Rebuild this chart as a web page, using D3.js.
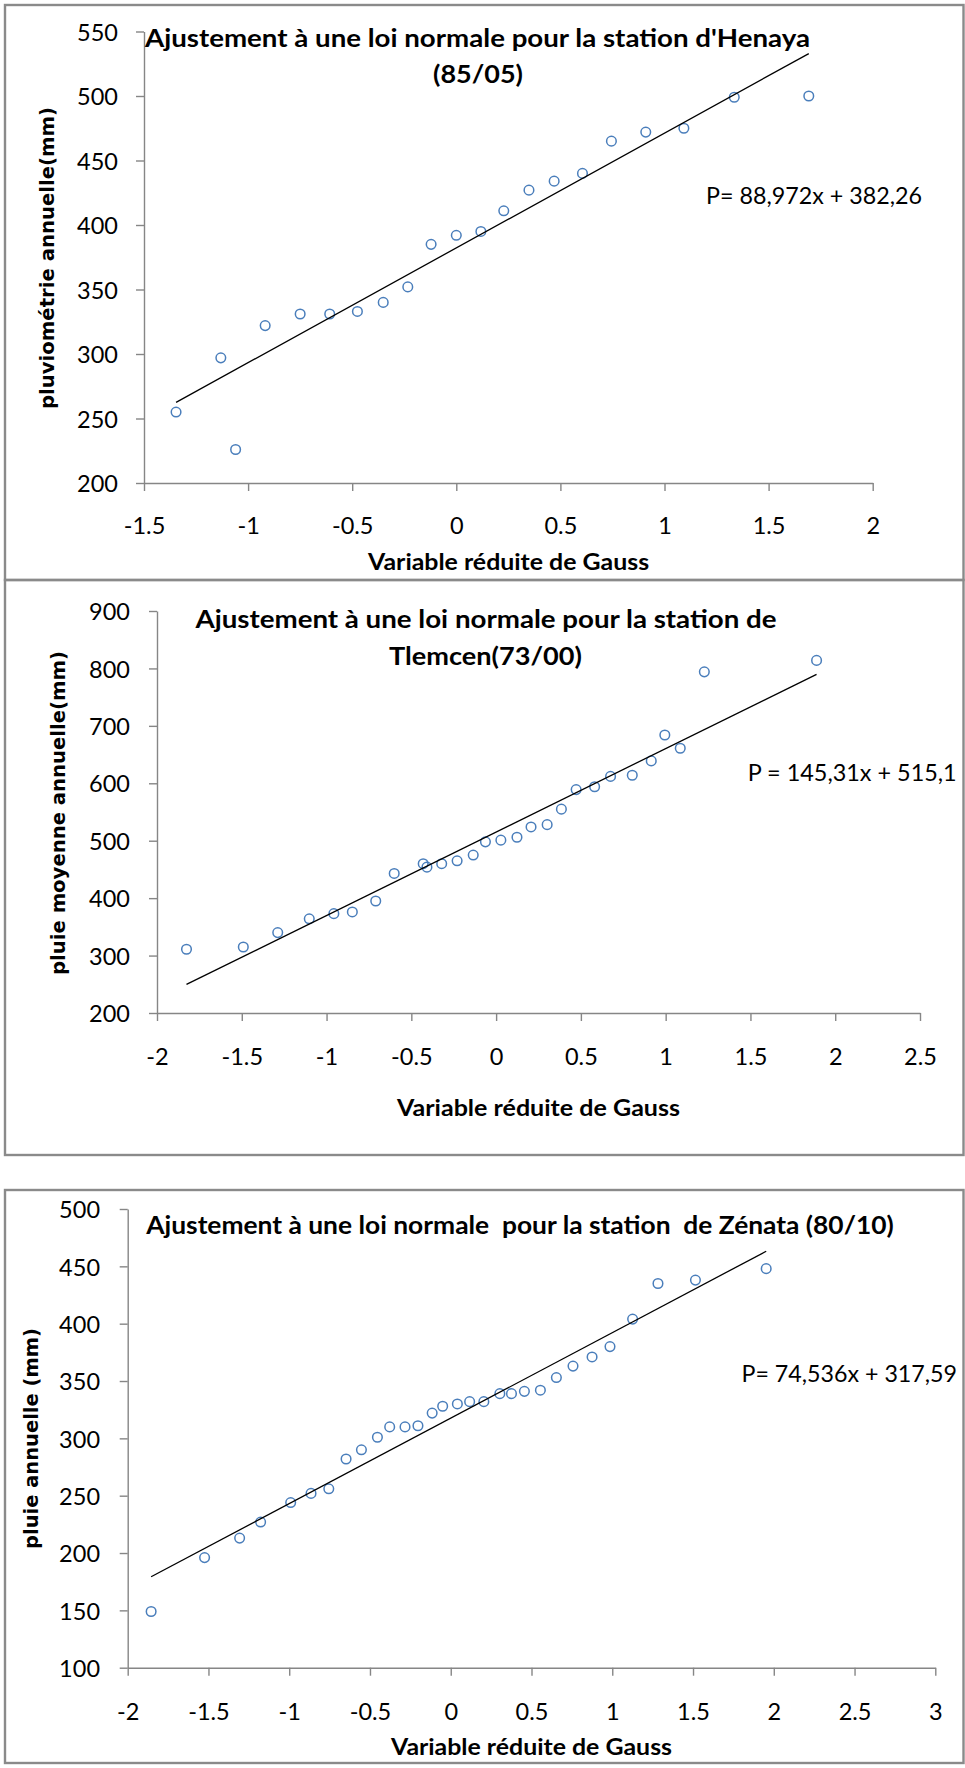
<!DOCTYPE html>
<html>
<head>
<meta charset="utf-8">
<script src="https://cdn.jsdelivr.net/npm/d3@7"></script>
<style>
  html, body { margin: 0; padding: 0; background: #fff; }
  svg { display: block; }
</style>
</head>
<body>
<svg id="fig" width="965" height="1768"></svg>
<script>
// ---- Station d'Henaya (85/05) ----
const henayaGauss = [-1.346, -1.131, -1.060, -0.918, -0.750, -0.608, -0.475, -0.351, -0.233, -0.121, 0.000,
                     0.118, 0.228, 0.349, 0.470, 0.606, 0.745, 0.910, 1.093, 1.335, 1.693];
const henayaRain  = [255, 297, 226, 322, 331, 331, 333, 340, 352, 385, 392,
                     395, 411, 427, 434, 440, 465, 472, 475, 499, 500];
const henayaFit   = [88.972, 382.26];
const henayaXTicks = [-1.5, -1, -0.5, 0, 0.5, 1, 1.5, 2];
const henayaYTicks = [200, 250, 300, 350, 400, 450, 500, 550];

// ---- Station de Tlemcen (73/00) ----
const tlemcenGauss = [-1.826, -1.491, -1.288, -1.102, -0.957, -0.848, -0.710, -0.601, -0.430, -0.408,
                      -0.321, -0.230, -0.135, -0.063, 0.028, 0.123, 0.206, 0.301, 0.385, 0.472,
                      0.581, 0.675, 0.803, 0.915, 0.995, 1.086, 1.228, 1.890];
const tlemcenRain  = [311, 315, 340, 364, 373, 376, 395, 443, 460, 454,
                      460, 465, 475, 498, 501, 506, 524, 528, 555, 589,
                      594, 612, 614, 639, 684, 661, 794, 814];
const tlemcenFit   = [145.31, 515.1];
const tlemcenXTicks = [-2, -1.5, -1, -0.5, 0, 0.5, 1, 1.5, 2, 2.5];
const tlemcenYTicks = [200, 300, 400, 500, 600, 700, 800, 900];

// ---- Station de Zénata (80/10) ----
const zenataGauss = [-1.855, -1.524, -1.307, -1.177, -0.991, -0.865, -0.755, -0.648, -0.553, -0.454,
                     -0.378, -0.283, -0.203, -0.115, -0.050, 0.041, 0.117, 0.205, 0.304, 0.376,
                     0.456, 0.555, 0.654, 0.757, 0.875, 0.986, 1.126, 1.283, 1.515, 1.953];
const zenataRain  = [149, 196, 213, 227, 244, 252, 256, 282, 290, 301,
                     310, 310, 311, 322, 328, 330, 332, 332, 339, 339,
                     341, 342, 353, 363, 371, 380, 404, 435, 438, 448];
const zenataFit   = [74.536, 317.59];
const zenataXTicks = [-2, -1.5, -1, -0.5, 0, 0.5, 1, 1.5, 2, 2.5, 3];
const zenataYTicks = [100, 150, 200, 250, 300, 350, 400, 450, 500];

// ---- Texts ----
const henayaTitle  = ["Ajustement à une loi normale pour la station d'Henaya", "(85/05)"];
const tlemcenTitle = ["Ajustement à une loi normale pour la station de", "Tlemcen(73/00)"];
const zenataTitle  = ["Ajustement à une loi normale  pour la station  de Zénata (80/10)"];
const xAxisTitle   = "Variable réduite de Gauss";

// Layout of each framed panel
const panels = [
  {
    gauss: henayaGauss, rain: henayaRain, fit: henayaFit,
    xTicks: henayaXTicks, yTicks: henayaYTicks,
    title: henayaTitle, equation: "P= 88,972x + 382,26", yTitle: "pluviométrie annuelle(mm)",
    frame: { x: 5, y: 5, w: 958.5, h: 575 },
    px: [144, 872.7], py: [483, 31.5],
    titleLayout: [{ cx: 477.5, y: 46.5, w: 665 }, { cx: 478, y: 83.3, w: 90 }],
    eq: { x: 706, y: 204, w: 216 },
    yt: { cx: 47, cy: 258, w: 302 },
    xt: { cx: 508.6, y: 570, w: 281 },
    tickBase: 534, yLabelRight: 118
  },
  {
    gauss: tlemcenGauss, rain: tlemcenRain, fit: tlemcenFit,
    xTicks: tlemcenXTicks, yTicks: tlemcenYTicks,
    title: tlemcenTitle, equation: "P = 145,31x + 515,1", yTitle: "pluie moyenne annuelle(mm)",
    frame: { x: 5, y: 580, w: 958.5, h: 575 },
    px: [157, 920], py: [1013, 611],
    titleLayout: [{ cx: 486, y: 627.5, w: 581 }, { cx: 485.5, y: 665, w: 193 }],
    eq: { x: 747.7, y: 780.7, w: 209 },
    yt: { cx: 57.5, cy: 813, w: 324 },
    xt: { cx: 538.5, y: 1116, w: 283 },
    tickBase: 1065, yLabelRight: 130
  },
  {
    gauss: zenataGauss, rain: zenataRain, fit: zenataFit,
    xTicks: zenataXTicks, yTicks: zenataYTicks,
    title: zenataTitle, equation: "P= 74,536x + 317,59", yTitle: "pluie annuelle (mm)",
    frame: { x: 5, y: 1190, w: 958.5, h: 573 },
    px: [127.7, 935.3], py: [1667.7, 1209],
    titleLayout: [{ cx: 520, y: 1234, w: 747.5 }],
    eq: { x: 741.5, y: 1381.5, w: 215.5 },
    yt: { cx: 30.5, cy: 1438.5, w: 221 },
    xt: { cx: 531.5, y: 1755, w: 281 },
    tickBase: 1720, yLabelRight: 100
  }
];

const svg = d3.select("#fig");
const AXIS_GREY = "#868686";
const MARKER_BLUE = "#4a7ebb";
const SANS = "Lato, 'Open Sans', sans-serif";

panels.forEach(p => {
  const g = svg.append("g");

  // panel frame
  g.append("rect")
    .attr("x", p.frame.x).attr("y", p.frame.y)
    .attr("width", p.frame.w).attr("height", p.frame.h)
    .attr("fill", "none").attr("stroke", "#8a8a8a").attr("stroke-width", 2.4);

  const x = d3.scaleLinear().domain(d3.extent(p.xTicks)).range(p.px);
  const y = d3.scaleLinear().domain(d3.extent(p.yTicks)).range(p.py);

  // y axis
  const gy = g.append("g")
    .attr("transform", `translate(${p.px[0]},0)`)
    .call(d3.axisLeft(y).tickValues(p.yTicks).tickSize(8).tickSizeOuter(0).tickFormat(d => String(d)));
  gy.selectAll("text")
    .attr("x", p.yLabelRight - p.px[0]).attr("dy", "0.37em")
    .attr("font-family", SANS).attr("font-size", 23.5).attr("fill", "#000");

  // x axis
  const gx = g.append("g")
    .attr("transform", `translate(0,${p.py[0]})`)
    .call(d3.axisBottom(x).tickValues(p.xTicks).tickSize(8).tickSizeOuter(0).tickFormat(d => String(d)));
  gx.selectAll("text")
    .attr("y", p.tickBase - p.py[0]).attr("dy", null)
    .attr("font-family", SANS).attr("font-size", 23.5).attr("fill", "#000");

  [gx, gy].forEach(a => {
    a.attr("font-family", null).attr("font-size", null);
    a.selectAll("path.domain, .tick line").attr("stroke", AXIS_GREY).attr("stroke-width", 1.4);
  });

  // observations
  g.append("g").selectAll("circle")
    .data(p.gauss.map((u, i) => [u, p.rain[i]]))
    .join("circle")
    .attr("cx", d => x(d[0])).attr("cy", d => y(d[1]))
    .attr("r", 4.8)
    .attr("fill", "none").attr("stroke", MARKER_BLUE).attr("stroke-width", 1.5);

  // linear trend over the observed range
  const [slope, intercept] = p.fit;
  const uRange = d3.extent(p.gauss);
  g.append("path")
    .datum(uRange)
    .attr("d", d3.line().x(u => x(u)).y(u => y(slope * u + intercept)))
    .attr("fill", "none").attr("stroke", "#000").attr("stroke-width", 1.3);

  // title
  p.title.forEach((line, i) => {
    const L = p.titleLayout[i];
    g.append("text")
      .attr("x", L.cx).attr("y", L.y)
      .attr("text-anchor", "middle")
      .attr("font-family", SANS).attr("font-weight", 700).attr("font-size", 24.5)
      .attr("textLength", L.w).attr("lengthAdjust", "spacingAndGlyphs")
      .style("white-space", "pre")
      .text(line);
  });

  // regression equation
  g.append("text")
    .attr("x", p.eq.x).attr("y", p.eq.y)
    .attr("font-family", SANS).attr("font-size", 23.5)
    .attr("textLength", p.eq.w).attr("lengthAdjust", "spacingAndGlyphs")
    .text(p.equation);

  // x axis title
  g.append("text")
    .attr("x", p.xt.cx).attr("y", p.xt.y)
    .attr("text-anchor", "middle")
    .attr("font-family", SANS).attr("font-weight", 700).attr("font-size", 23)
    .attr("textLength", p.xt.w).attr("lengthAdjust", "spacingAndGlyphs")
    .text(xAxisTitle);

  // y axis title
  g.append("text")
    .attr("transform", `translate(${p.yt.cx},${p.yt.cy}) rotate(-90)`)
    .attr("text-anchor", "middle").attr("dy", "0.36em")
    .attr("font-family", "'DejaVu Sans', Verdana, sans-serif").attr("font-weight", 700).attr("font-size", 20)
    .attr("textLength", p.yt.w).attr("lengthAdjust", "spacingAndGlyphs")
    .text(p.yTitle);
});
</script>
</body>
</html>
